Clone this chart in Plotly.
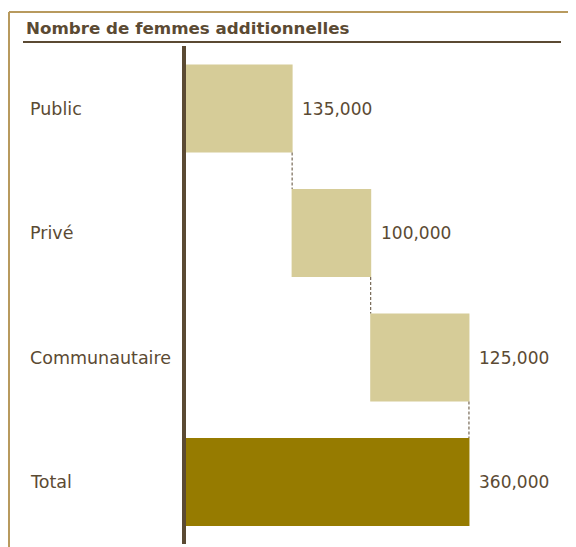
import plotly.graph_objects as go

categories = ["Public", "Privé", "Communautaire", "Total"]
values = [135000, 100000, 125000, 360000]
measures = ["relative", "relative", "relative", "total"]
title_text = "Nombre de femmes additionnelles"

W, H = 576, 547
OFF = 8  # page body margin offset
brown = "#5b4a33"
light = "#d6cc98"
dark = "#967b00"
border = "#b89a5e"
font_family = "DejaVu Sans"


def px(x):
    return (x - OFF) / W


def py(y):
    return 1 - (y - OFF) / H


fig = go.Figure()
fig.add_trace(go.Waterfall(
    orientation="h",
    y=categories,
    x=values,
    measure=measures,
    increasing=dict(marker=dict(color=light)),
    totals=dict(marker=dict(color=dark)),
    connector=dict(mode="between", line=dict(color=brown, width=1, dash="3px,2px")),
    width=0.707,
    cliponaxis=False,
    hoverinfo="skip",
))

scale = 0.786 / 1000  # px per unit

fig.update_layout(
    width=W, height=H,
    margin=dict(l=0, r=0, t=0, b=0),
    paper_bgcolor="white", plot_bgcolor="white",
    showlegend=False,
    xaxis=dict(domain=[px(186), 1], range=[0, (W - (186 - OFF)) / scale],
               showgrid=False, zeroline=False, showticklabels=False, showline=False, fixedrange=True),
    yaxis=dict(domain=[py(544.25), py(46.25)], range=[3.5, -0.5], type="category",
               showgrid=False, zeroline=False, showticklabels=False,
               showline=True, linecolor=brown, linewidth=4, ticks="", fixedrange=True),
)

# value labels at the end of each bar
running = 0
for c, v, m in zip(categories, values, measures):
    end = v if m == "total" else running + v
    if m != "total":
        running = end
    fig.add_annotation(x=end, xref="x", y=c, yref="y", text=f"{v:,}",
                       xanchor="left", yanchor="middle", xshift=8, showarrow=False,
                       font=dict(family=font_family, size=17, color=brown))

for c in categories:
    fig.add_annotation(x=px(28), xref="paper", y=c, yref="y", text=c,
                       xanchor="left", yanchor="middle", showarrow=False,
                       font=dict(family=font_family, size=17.5, color=brown))

fig.add_annotation(x=px(24), xref="paper", y=py(28), yref="paper",
                   text=f"<b>{title_text}</b>", xanchor="left", yanchor="middle",
                   showarrow=False, font=dict(family=font_family, size=16.7, color=brown))

# title underline
fig.add_shape(type="line", xref="paper", yref="paper", x0=px(23), x1=px(561),
              y0=py(42), y1=py(42), line=dict(color=brown, width=2))
# outer frame
fig.add_shape(type="line", xref="paper", yref="paper", x0=px(9), x1=px(9),
              y0=py(12), y1=0, line=dict(color=border, width=2))
fig.add_shape(type="line", xref="paper", yref="paper", x0=px(9), x1=1,
              y0=py(12), y1=py(12), line=dict(color=border, width=2))

fig.write_html("out.html")
